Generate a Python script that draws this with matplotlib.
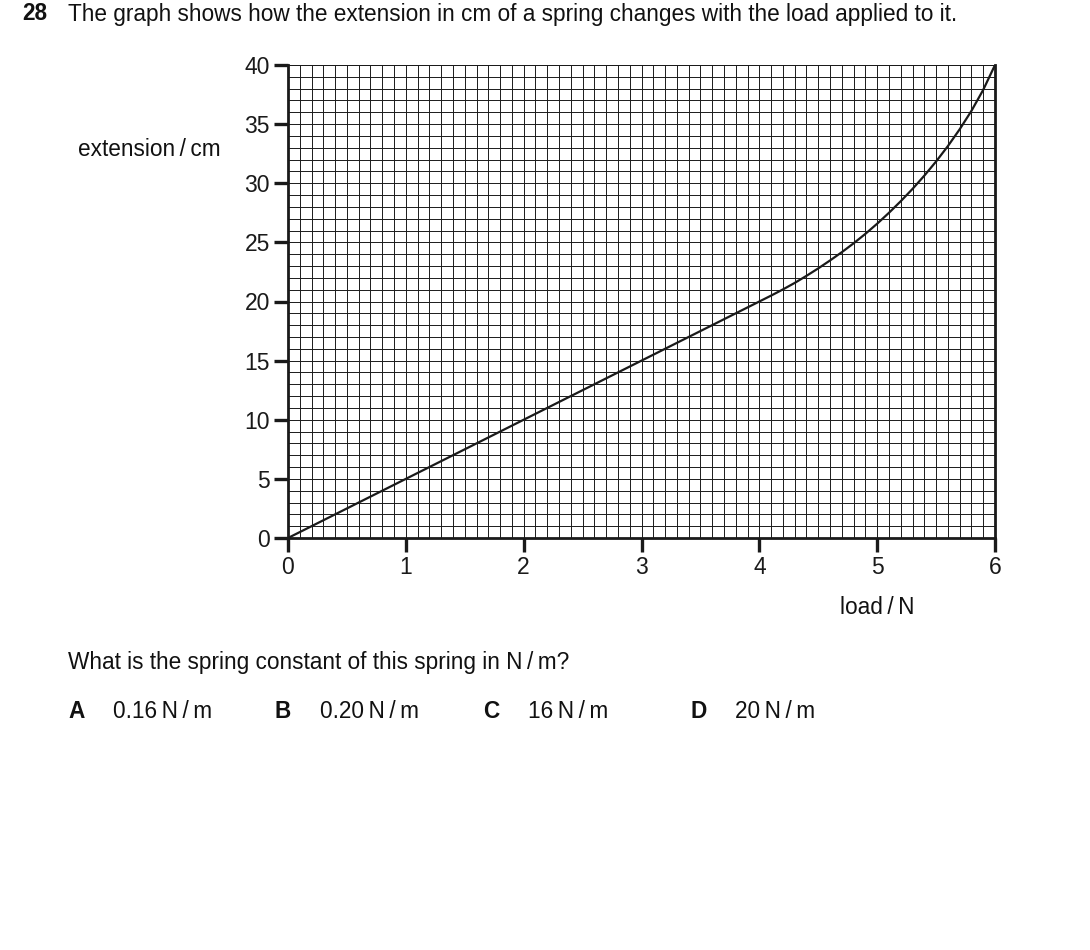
import numpy as np
import matplotlib
matplotlib.use("Agg")
import matplotlib.pyplot as plt
from matplotlib.ticker import MultipleLocator

plt.rcParams['font.family'] = ['Liberation Sans', 'DejaVu Sans']

# Data
load_N = [0.0, 1.0, 2.0, 3.0, 3.8, 4.0, 4.1, 4.2, 4.3, 4.4, 4.5, 4.6, 4.7, 4.8, 4.9, 5.0,
          5.1, 5.2, 5.3, 5.4, 5.5, 5.6, 5.7, 5.8, 5.9, 6.0]
extension_cm = [0.0, 5.0, 10.0, 15.0, 19.0, 20.0, 20.5, 21.02, 21.57, 22.17, 22.8, 23.47,
                24.17, 24.92, 25.72, 26.58, 27.5, 28.48, 29.52, 30.64, 31.84, 33.14,
                34.56, 36.12, 37.9, 40.0]
x_ticks = [0, 1, 2, 3, 4, 5, 6]
y_ticks = [0, 5, 10, 15, 20, 25, 30, 35, 40]

W, H = 1090, 950
fig = plt.figure(figsize=(W / 100, H / 100), dpi=100)
fig.patch.set_facecolor('white')

x0, x1, y0, y1 = 288, 995, 538, 65
ax = fig.add_axes([x0 / W, 1 - y0 / H, (x1 - x0) / W, (y0 - y1) / H])
ax.set_xlim(0, 6)
ax.set_ylim(0, 40)

# fine graph-paper grid
ax.xaxis.set_minor_locator(MultipleLocator(0.1))
ax.yaxis.set_minor_locator(MultipleLocator(1))
ax.set_xticks(x_ticks)
ax.set_yticks(y_ticks)
ax.grid(which='both', color='#1a1a1a', linewidth=0.7)
ax.set_axisbelow(True)

ax.plot(load_N, extension_cm, color='#1a1a1a', linewidth=1.6, zorder=3,
        solid_capstyle='round', solid_joinstyle='round')

for s in ['left', 'bottom', 'right']:
    ax.spines[s].set_linewidth(2.0)
    ax.spines[s].set_color('#1a1a1a')
ax.spines['top'].set_linewidth(0.7)
ax.spines['top'].set_color('#1a1a1a')

ax.tick_params(which='major', direction='out', length=10, width=2.4,
               color='#1a1a1a', labelsize=16.5, labelcolor='#1a1a1a', pad=3)
ax.tick_params(which='minor', length=0)
ax.set_xticklabels([str(t) for t in x_ticks])
ax.set_yticklabels([str(t) for t in y_ticks])

tc = '#111111'
fs = 16.3
fig.text(22 / W, 1 - 14 / H, '28', fontsize=fs, fontweight='bold', color=tc, va='center')
fig.text(68 / W, 1 - 14 / H, 'The graph shows how the extension in cm of a spring changes with the load applied to it.',
         fontsize=fs, color=tc, va='center')
fig.text(78 / W, 1 - 149 / H, 'extension\u2009/\u2009cm', fontsize=fs, color=tc, va='center')
fig.text(877 / W, 1 - 607 / H, 'load\u2009/\u2009N', fontsize=fs, color=tc, va='center', ha='center')
fig.text(68 / W, 1 - 662 / H, 'What is the spring constant of this spring in N\u2009/\u2009m?',
         fontsize=fs, color=tc, va='center')

letters = ['A', 'B', 'C', 'D']
answers = ['0.16\u2009N\u2009/\u2009m', '0.20\u2009N\u2009/\u2009m', '16\u2009N\u2009/\u2009m', '20\u2009N\u2009/\u2009m']
letter_x = [68, 275, 483, 690]
for lx, L, A in zip(letter_x, letters, answers):
    fig.text(lx / W, 1 - 711 / H, L, fontsize=fs, fontweight='bold', color=tc, va='center')
    fig.text((lx + 45) / W, 1 - 711 / H, A, fontsize=fs, color=tc, va='center')

fig.savefig('out.png', dpi=100, facecolor='white')
